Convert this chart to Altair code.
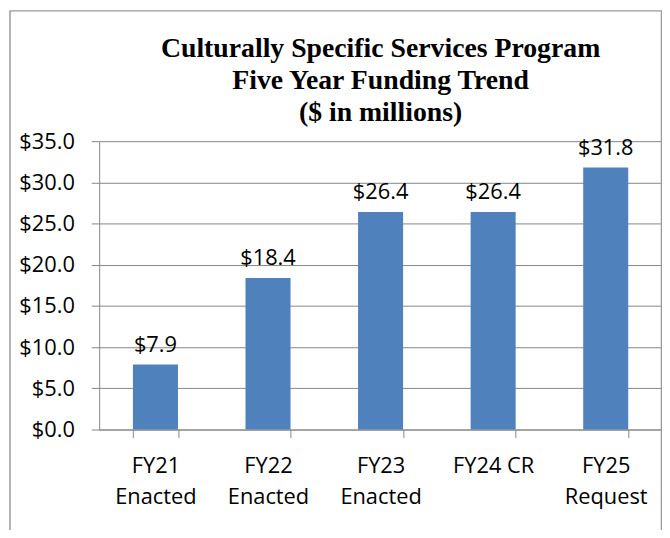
import altair as alt
import pandas as pd

categories = ["FY21 Enacted", "FY22 Enacted", "FY23 Enacted", "FY24 CR", "FY25 Request"]
values = [7.9, 18.4, 26.4, 26.4, 31.8]
y_ticks = [0, 5, 10, 15, 20, 25, 30, 35]
title_lines = ["Culturally Specific Services Program", "Five Year Funding Trend", "($ in millions)"]

df = pd.DataFrame({"category": categories, "value": values})

SANS = "Open Sans"
GRID = "#868686"

x_enc = alt.X(
    "category:N",
    sort=categories,
    scale=alt.Scale(paddingInner=0.6, paddingOuter=0.3),
    axis=alt.Axis(
        title=None,
        labelAngle=0,
        labelFont=SANS,
        labelFontSize=22,
        labelColor="#000000",
        labelPadding=18,
        labelLineHeight=32,
        labelExpr="datum.value == null ? '' : (datum.value == 'FY24 CR' ? datum.value : split(datum.value, ' '))",
        tickBand="extent",
        tickSize=8,
        tickColor=GRID,
        domainColor=GRID,
        grid=False,
    ),
)
y_enc = alt.Y(
    "value:Q",
    scale=alt.Scale(domain=[0, 35]),
    axis=alt.Axis(
        title=None,
        values=y_ticks,
        format="$.1f",
        labelFont=SANS,
        labelFontSize=22,
        labelColor="#000000",
        labelPadding=17,
        tickSize=8,
        tickColor=GRID,
        domainColor=GRID,
        gridColor=GRID,
        gridWidth=1,
    ),
)

border = alt.Chart(alt.Data(values=[{"b": 1}])).mark_rect(
    fill=None, stroke="#9a9a9a", strokeWidth=1.5
).encode(
    x=alt.value(-90), x2=alt.value(567.5), y=alt.value(-131.5), y2=alt.value(500)
)

bars = alt.Chart(df).mark_bar(color="#4F81BD").encode(x=x_enc, y=y_enc)

labels = alt.Chart(df).mark_text(
    baseline="alphabetic", dy=-13, font=SANS, fontSize=22, color="#000000"
).encode(
    x=alt.X("category:N", sort=categories),
    y=alt.Y("value:Q"),
    text=alt.Text("value:Q", format="$.1f"),
)

chart = alt.layer(border, bars, labels).properties(
    width=568,
    height=291,
    autosize=alt.AutoSizeParams(type="none"),
    padding={"left": 92, "top": 132, "right": 0, "bottom": 99},
    title=alt.TitleParams(
        text=title_lines,
        font="Liberation Serif",
        fontSize=28,
        fontWeight="bold",
        lineHeight=32.5,
        anchor="middle",
        color="#000000",
        offset=-118,
    ),
).configure_view(stroke=None)

chart.save("out.html", embed_options={"renderer": "svg", "actions": False})
